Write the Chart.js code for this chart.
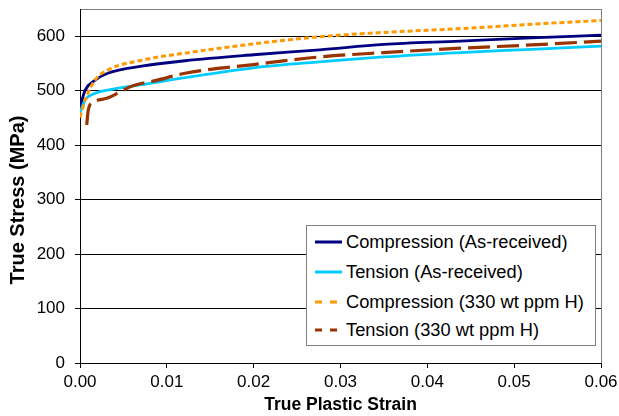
<!DOCTYPE html>
<html>
<head>
<meta charset="utf-8">
<script src="https://cdn.jsdelivr.net/npm/chart.js@4.4.1/dist/chart.umd.min.js"></script>
<style>
  html, body { margin: 0; padding: 0; background: #fff; }
  #wrap { position: relative; width: 619px; height: 416px; }
  #legend {
    position: absolute; left: 306px; top: 225px; width: 290px; height: 121px;
    border: 1px solid #808080; background: #fff; box-sizing: border-box;
    font-family: "Liberation Sans", Arial, sans-serif; font-size: 18.3px; color: #000;
  }
  .item { position: absolute; left: 8px; height: 22px; display: flex; align-items: center; white-space: nowrap; }
  .item svg { width: 27px; height: 6px; margin-right: 4px; }
</style>
</head>
<body>
<div id="wrap">
  <canvas id="stressChart" width="619" height="416"></canvas>
  <div id="legend"></div>
</div>
<script>
// values (strain, MPa)
const strainAR = [0, 0.0006, 0.0017, 0.0032, 0.0071, 0.0121, 0.02, 0.0276, 0.035, 0.0438, 0.052, 0.06];
const compAR = [470, 501, 519, 532, 545, 555, 566, 575, 585, 591, 597, 602];
const tensAR = [460, 483, 495, 501, 511, 524, 542, 553, 562, 570, 576, 582];
const compH = [451, 483, 519, 538, 556, 569, 586, 599, 607, 614, 622, 629];

const strainTensH = [0.00077, 0.00095, 0.0015, 0.0025, 0.0034, 0.0045, 0.0061, 0.0088, 0.0121, 0.02, 0.0276, 0.035, 0.0438, 0.052, 0.06];
const tensH = [437, 464, 479, 484, 488, 497, 509, 519, 532, 548, 562, 570, 578, 584, 591];

const seriesLabels = ['Compression (As-received)', 'Tension (As-received)', 'Compression (330 wt ppm H)', 'Tension (330 wt ppm H)'];
const xTitle = 'True Plastic Strain';
const yTitle = 'True Stress (MPa)';

const toPoints = (xs, ys) => xs.map((x, i) => ({ x: x, y: ys[i] }));

const FONT = '"Liberation Sans", Arial, sans-serif';

const yTitlePlugin = {
  id: 'yTitle',
  afterDraw(chart) {
    const { ctx, chartArea } = chart;
    ctx.save();
    ctx.translate(18.5, (chartArea.top + chartArea.bottom) / 2 + 14);
    ctx.rotate(-Math.PI / 2);
    ctx.font = 'bold 20px ' + FONT;
    ctx.textAlign = 'center';
    ctx.textBaseline = 'middle';
    ctx.fillStyle = '#000';
    ctx.fillText(yTitle, 0, 0);
    ctx.restore();
  },
};

const isEnd = (v) => Math.abs(v - 0.06) < 1e-9;

const chart = new Chart('stressChart', {
  type: 'line',
  data: {
    datasets: [
      { label: seriesLabels[0], data: toPoints(strainAR, compAR), borderColor: '#000080', borderWidth: 2.8, order: 4 },
      { label: seriesLabels[1], data: toPoints(strainAR, tensAR), borderColor: '#00CCFF', borderWidth: 2.8, order: 3 },
      { label: seriesLabels[2], data: toPoints(strainAR, compH), borderColor: '#FF9900', borderWidth: 3, borderDash: [5, 3], order: 2 },
      { label: seriesLabels[3], data: toPoints(strainTensH, tensH), borderColor: '#993300', borderWidth: 3.2, borderDash: [22, 7], order: 1 },
    ],
  },
  options: {
    responsive: false,
    animation: false,
    devicePixelRatio: 1,
    layout: { padding: { top: 9, right: 18, left: 0, bottom: 0 } },
    elements: {
      point: { radius: 0 },
      line: { cubicInterpolationMode: 'monotone', fill: false },
    },
    plugins: {
      legend: { display: false },
      tooltip: { enabled: false },
    },
    scales: {
      x: {
        type: 'linear',
        min: 0,
        max: 0.06,
        afterFit: (scale) => {
          scale.height = 53;
          scale.paddingLeft = 0;
          scale.paddingRight = 0;
        },
        ticks: {
          stepSize: 0.01,
          color: '#000',
          padding: 4,
          font: { family: FONT, size: 17 },
          callback: (v) => v.toFixed(2),
        },
        grid: {
          drawOnChartArea: true,
          tickLength: 5,
          color: (ctx) => (ctx.tick && isEnd(ctx.tick.value) ? '#808080' : 'rgba(0,0,0,0)'),
          tickColor: '#000',
        },
        border: { color: '#000', width: 1 },
        title: {
          display: true,
          text: xTitle,
          color: '#000',
          padding: 0,
          font: { family: FONT, size: 17.5, weight: 'bold' },
        },
      },
      y: {
        min: 0,
        max: 650,
        afterFit: (scale) => {
          scale.width = 80;
          scale.paddingTop = 0;
          scale.paddingBottom = 0;
        },
        ticks: {
          stepSize: 100,
          color: '#000',
          padding: 10,
          font: { family: FONT, size: 17 },
          callback: (v) => (v === 650 ? '' : v),
        },
        grid: {
          tickLength: 5,
          color: (ctx) => (ctx.tick && ctx.tick.value === 650 ? '#808080' : '#000'),
          tickColor: (ctx) => (ctx.tick && ctx.tick.value === 650 ? 'rgba(0,0,0,0)' : '#000'),
        },
        border: { color: '#000', width: 1 },
      },
    },
  },
  plugins: [yTitlePlugin],
});

// legend inside the plot, built from the datasets
const legendEl = document.getElementById('legend');
const rowTops = [5, 35, 65, 93];
chart.data.datasets.forEach((ds, i) => {
  const dash = ds.borderDash ? `stroke-dasharray="7 8"` : '';
  const item = document.createElement('div');
  item.className = 'item';
  item.style.top = rowTops[i] + 'px';
  item.innerHTML =
    `<svg viewBox="0 0 27 6"><line x1="0" y1="3" x2="27" y2="3" stroke="${ds.borderColor}" stroke-width="3" ${dash}/></svg>` +
    `<span>${ds.label}</span>`;
  legendEl.appendChild(item);
});
</script>
</body>
</html>
